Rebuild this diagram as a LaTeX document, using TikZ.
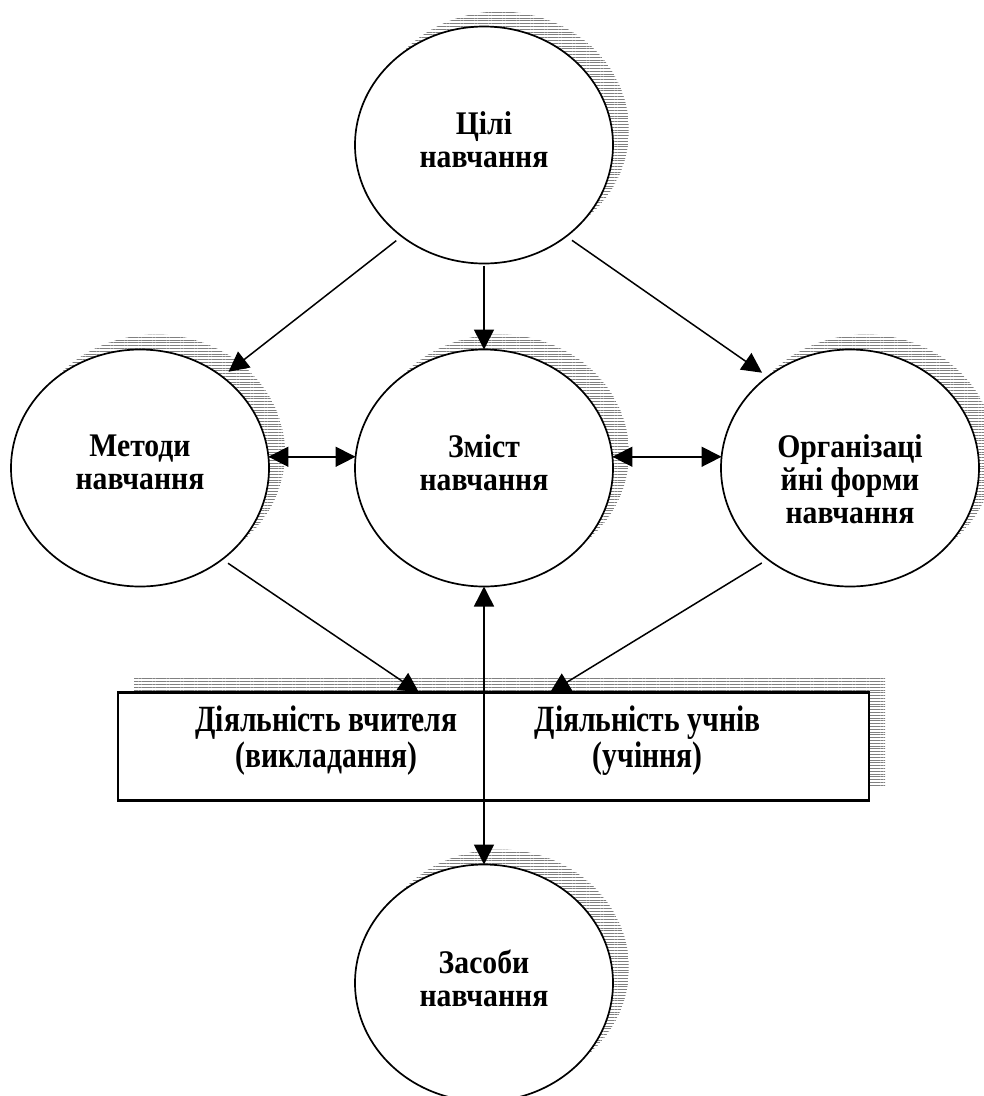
\documentclass[tikz,border=0pt]{standalone}
\usepackage{fontspec}
\usepackage{graphicx}
\setmainfont{Liberation Serif}
\usetikzlibrary{positioning, shapes, arrows.meta, patterns.meta}

% text of a circle: top aligned, slightly narrow
\newcommand{\disclines}[1]{\scalebox{0.9}[1]{\begin{minipage}[t][66pt][t]{170pt}\centering #1\end{minipage}}}

\begin{document}
\begin{tikzpicture}[
		x=1pt, y=1pt,
		node distance=86pt and 86pt,
		hatch/.style={preaction={draw=none, fill=none, pattern={Lines[angle=0,distance=2.8pt,line width=0.9pt]}, pattern color=gray, transform canvas={shift={(16pt,15pt)}}}},
		disc/.style={ellipse, draw, line width=1.7pt, fill=white, hatch, minimum width=258pt, minimum height=237pt, inner sep=0pt, outer sep=0pt, font=\fontsize{33}{33}\selectfont\bfseries},
		actbox/.style={rectangle, draw, line width=2.4pt, fill=white, hatch, minimum width=751pt, minimum height=108pt, inner sep=0pt, outer sep=0pt},
		acttext/.style={align=center, xscale=0.8, font=\fontsize{37}{36}\selectfont\bfseries},
		line/.style={draw, line width=1.5pt, -{Triangle[length=20pt,width=20pt]}},
		biline/.style={draw, line width=1.5pt, {Triangle[length=20pt,width=20pt]}-{Triangle[length=20pt,width=20pt]}}
		]
		\useasboundingbox (0,0) rectangle (984,-1096);
		
		% Goals (top)
		\node[disc] (goals) at (484,-145) {\disclines{Цілі\\навчання}};
		
		% Middle row
		\node[disc, below=of goals] (content) {\disclines{Зміст\\навчання}};
		\node[disc, left=of content] (methods) {\disclines{Методи\\навчання}};
		\node[disc, right=108pt of content] (forms) {\disclines{Організаці\\йні форми\\навчання}};
		
		% Activity box
		\node[actbox, below=106pt of content, xshift=9.5pt] (acts) {};
		\node[acttext] (teach) at ([xshift=-167pt,yshift=6pt]acts.center) {Діяльність вчителя\\(викладання)};
		\node[acttext] (learn) at ([xshift=154pt,yshift=6pt]acts.center) {Діяльність учнів\\(учіння)};
		
		% Means (bottom)
		\node[disc, below=64pt of acts, xshift=-9.5pt] (means) {\disclines{Засоби\\навчання}};
		
		% Connections
		\path[line, shorten <=7pt, shorten >=8pt] (goals.228) -- (methods.48);
		\path[line, shorten <=2pt] (goals.south) -- (content.north);
		\path[line, shorten <=7pt, shorten >=7pt] (goals.312) -- (forms.132);
		
		\path[biline] (methods.5) -- (content.175);
		\path[biline] (content.5) -- (forms.175);
		
		\path[line, shorten <=7pt] (methods.312) -- ([xshift=-74.5pt]acts.north);
		\path[line, shorten <=7pt] (forms.228) -- ([xshift=56.5pt]acts.north);
		
		\path[biline] (content.south) -- (means.north);
		
	\end{tikzpicture}
\end{document}
